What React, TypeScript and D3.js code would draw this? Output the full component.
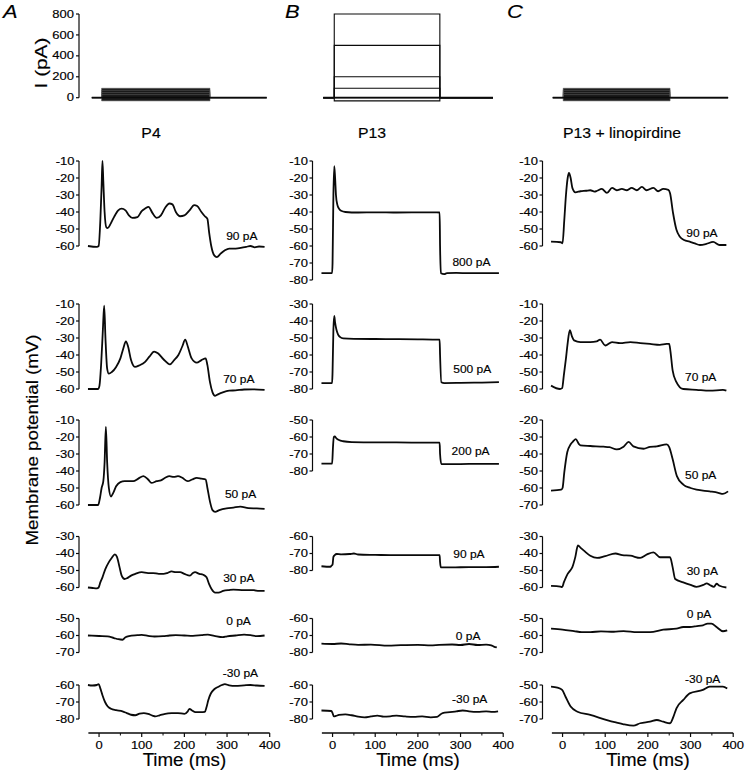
import React from 'react';
import * as d3 from 'd3';

// ---------- data ----------
const columnTitles = ['P4', 'P13', 'P13 + linopirdine'];
const panelLetters = ['A', 'B', 'C'];

const p4Currents = [90, 70, 50, 30, 0, -30];
const p13Currents = [800, 500, 200, 90, 0, -30];
const linoCurrents = [90, 70, 50, 30, 0, -30];

const p4Domains = [[-60, -10], [-60, -10], [-60, -10], [-60, -30], [-70, -50], [-80, -60]];
const p13Domains = [[-80, -10], [-80, -30], [-80, -50], [-80, -60], [-80, -60], [-80, -60]];
const linoDomains = [[-60, -10], [-60, -10], [-70, -20], [-60, -30], [-70, -50], [-70, -50]];

// label anchor in data units [time ms, mV]
const p4LabelAt = [[298, -56.5], [291, -56.6], [295, -55.9], [291, -56.6], [298, -53.8], [290, -55.1]];
const p13LabelAt = [[281, -71.8], [283, -70.8], [279, -70.6], [283, -72.8], [289, -72.6], [280, -70.8]];
const linoLabelAt = [[290, -54.9], [287, -55.1], [287, -54.9], [291, -52.6], [291, -49.9], [287, -48.6]];

// current step protocol per column: [on, off] ms, baseline [from, to] ms
const stepTimes = [[6, 260], [4, 251.5], [1.5, 252]];
const baselineSpan = [[-17, 393], [-22, 376], [-23, 388]];

const currentTicks = [0, 200, 400, 600, 800];
const timeTicks = [0, 100, 200, 300, 400];

const p4Traces: number[][][] = [
  [[-26,-60],[-5,-60.5],[-1,-60],[3,-45],[6,-25],[8,-10],[10,-22],[13,-40],[17,-49],[20,-49.5],[27,-47],[35,-43],[45,-39],[53,-38],[62,-39],[70,-42],[78,-43.5],[90,-43],[100,-39.5],[108,-38],[116,-37],[125,-40.5],[135,-43.5],[145,-42],[155,-37.5],[165,-35],[172,-35.5],[180,-40],[190,-42.5],[200,-42],[212,-39],[223,-36],[230,-36.5],[240,-40],[248,-42.5],[254,-44],[258,-52],[263,-60],[270,-65.5],[276,-66.5],[285,-64.5],[295,-62.5],[305,-61.5],[320,-61.5],[335,-61],[345,-60.5],[355,-60],[365,-60.8],[375,-60.3],[388,-60.5]],
  [[-26,-60],[-2,-60],[1,-58],[5,-45],[9,-25],[12,-11],[15,-30],[19,-48],[23,-51],[30,-50],[40,-47],[50,-42],[57,-36],[63,-32],[68,-35],[75,-43],[84,-47],[95,-46],[108,-44],[118,-41],[129,-38],[138,-39],[151,-42.5],[166,-45.5],[176,-43],[186,-40],[195,-35],[202,-31],[208,-35],[217,-42],[229,-44.5],[240,-43],[250,-42],[254,-46],[260,-56],[266,-62],[272,-64],[280,-63],[290,-62],[305,-61],[320,-60.8],[340,-60.3],[360,-60.2],[388,-60.5]],
  [[-26,-60],[-2,-60],[2,-56],[6,-50],[10,-46],[13,-35],[16,-14],[19,-35],[23,-50],[28,-55],[33,-53],[40,-49],[50,-46.5],[60,-46],[70,-46],[80,-46],[92,-44.5],[104,-43],[115,-45],[123,-47],[135,-46],[145,-45.5],[155,-44],[165,-43],[175,-43.5],[185,-43],[195,-44],[208,-46],[218,-45],[229,-44],[240,-44.5],[250,-45],[254,-50],[260,-58],[266,-63],[272,-64],[282,-63],[299,-62],[315,-61.5],[331,-61],[350,-61.8],[370,-62],[388,-62.3]],
  [[-26,-60],[-15,-60.3],[-5,-60.5],[-1,-60],[3,-57],[8,-54],[15,-49],[22,-45.5],[30,-42.5],[37,-40.5],[42,-42],[48,-48],[53,-53],[60,-55],[66,-54.5],[75,-53],[85,-52],[100,-51],[115,-51.5],[127,-51.5],[140,-52],[151,-52],[160,-51.5],[170,-50.5],[180,-51],[190,-51],[200,-52],[213,-53],[220,-51.5],[225,-51],[235,-52],[244,-52.5],[252,-54],[258,-58],[264,-61],[272,-63],[280,-63],[291,-62],[305,-61.5],[315,-61.3],[335,-61.5],[362,-61.6],[375,-62],[388,-62]],
  [[-26,-60],[0,-60.3],[20,-60.5],[35,-61.5],[45,-62.2],[55,-62.5],[62,-61],[70,-60.3],[90,-59.8],[100,-59.6],[115,-60.2],[130,-60.6],[150,-60.4],[165,-60],[180,-59.8],[200,-60],[220,-60.2],[240,-59.8],[255,-59.5],[270,-60.2],[290,-61],[300,-60.5],[320,-60],[340,-59.5],[355,-59.8],[370,-60.4],[388,-60]],
  [[-26,-60],[-15,-60.3],[-5,-60],[-1,-59.5],[3,-62],[8,-66],[14,-70],[20,-72.5],[28,-74],[40,-74.8],[55,-75.5],[65,-76.5],[75,-77.5],[85,-77.8],[95,-76.8],[105,-76.5],[115,-77],[125,-78],[132,-78.5],[142,-77.8],[155,-77],[170,-76.6],[185,-76.5],[200,-77],[208,-75.5],[212,-74],[218,-75],[226,-76],[238,-76],[248,-75.8],[252,-73],[256,-69],[262,-65],[270,-62.5],[280,-61],[288,-60],[295,-59.5],[305,-60.2],[320,-60.5],[340,-60.2],[355,-60],[370,-60.3],[388,-60.5]],
];

const p13Traces: number[][][] = [
  [[-26,-76],[-1,-76],[0,-70],[2,-30],[4,-13],[6,-20],[8,-30],[11,-35.5],[15,-38],[20,-39.3],[30,-40],[60,-40.3],[100,-40.2],[150,-40.3],[200,-40.2],[251,-40.3],[252,-60],[254,-76],[262,-76.5],[268,-76],[290,-75.8],[320,-76],[360,-76],[390,-76]],
  [[-26,-76.5],[-1,-76.5],[0,-70],[2,-45],[4,-37],[6,-41],[9,-45],[13,-48],[18,-49.5],[25,-50.2],[50,-50.5],[100,-50.6],[150,-50.7],[200,-50.8],[251,-51],[252,-60],[255,-76],[262,-76.5],[300,-76.4],[350,-76.2],[390,-76]],
  [[-26,-75.7],[-1,-75.7],[1,-66],[3,-60],[5,-59.7],[9,-60.8],[15,-61.8],[25,-62.5],[45,-63],[100,-63.2],[150,-63.2],[200,-63.3],[251,-63.3],[252,-70],[255,-76],[280,-76],[320,-75.8],[360,-75.8],[390,-75.8]],
  [[-26,-77.5],[-5,-77.8],[-2,-77],[0,-76.5],[2,-72],[5,-71],[10,-70.3],[20,-70.5],[40,-70.3],[50,-70],[60,-70.6],[100,-70.8],[150,-71],[200,-70.9],[251,-71],[252,-75],[254,-78.2],[280,-78.2],[320,-78],[360,-78],[390,-77.8]],
  [[-26,-74.8],[0,-75],[20,-74.7],[40,-75.2],[60,-75.5],[90,-75.4],[130,-76],[160,-75.7],[200,-75.5],[230,-75.8],[250,-75.5],[280,-75.3],[300,-75.6],[320,-75],[340,-75.6],[360,-75.4],[372,-75.8],[378,-76.5],[385,-77]],
  [[-26,-75],[-3,-75.3],[0,-76.5],[3,-78.5],[8,-78.2],[15,-77.6],[30,-77.3],[45,-77.8],[60,-78.6],[75,-79],[90,-78.5],[105,-78],[120,-78.6],[135,-78.4],[150,-78],[170,-78.5],[190,-78.8],[210,-78.5],[230,-79],[245,-78.8],[252,-77.5],[258,-76.5],[275,-76],[290,-75.5],[305,-75],[320,-75.5],[340,-75.8],[360,-75.5],[375,-75.8],[388,-75.5]],
];

const linoTraces: number[][][] = [
  [[-27,-57.4],[-4,-57.8],[0,-58.4],[4,-45],[8,-30],[12,-20],[15,-17],[19,-20],[23,-25.8],[30,-28.4],[42,-27.8],[55,-27.5],[65,-27.2],[75,-28],[81,-27.5],[92,-26.4],[104,-28.8],[116,-25.8],[127,-27.2],[139,-26.4],[151,-27.2],[162,-25.8],[174,-27.2],[186,-25.2],[197,-27.2],[213,-25.8],[224,-27.8],[236,-26.4],[248,-27],[252,-29],[259,-40.6],[267,-50.5],[275,-54.5],[285,-56.5],[298,-57.4],[310,-58.5],[322,-59.4],[337,-58.8],[353,-57.6],[368,-59.4],[384,-59.4]],
  [[-27,-58],[-6,-60],[-1,-59.5],[3,-52],[8,-42],[12,-33],[17,-25.4],[22,-29],[27,-31.4],[42,-32.4],[65,-32.4],[80,-32],[88,-31],[100,-34.4],[116,-32.4],[135,-33],[159,-32.4],[182,-33],[205,-33.5],[228,-34],[244,-33.5],[250,-33.5],[253,-38],[258,-49],[267,-56],[275,-59],[283,-60],[314,-60.5],[345,-61],[376,-60.5],[384,-61]],
  [[-27,-61.5],[-3,-61],[0,-60],[4,-51],[11,-39],[19,-34.3],[25,-32.5],[31,-31.3],[38,-34],[42,-34.9],[65,-35.3],[96,-35.7],[110,-36],[127,-37.3],[143,-35.7],[155,-32.9],[166,-35.5],[190,-36.9],[205,-35.8],[221,-35.5],[244,-34.3],[250,-36],[258,-43],[268,-53],[283,-58],[300,-60],[314,-61],[345,-62],[365,-62.8],[376,-63.5],[388,-62]],
  [[-27,-59],[-5,-59.5],[-1,-59.8],[3,-57],[8,-54],[12,-52],[18,-50],[23,-48],[30,-42],[36,-35.3],[43,-36.8],[50,-38.3],[65,-41.3],[81,-42.6],[100,-41.5],[124,-40],[140,-41],[159,-41.3],[182,-42.6],[198,-40.5],[213,-39.3],[229,-42.2],[252,-42.2],[258,-48],[264,-55],[283,-57],[300,-58.5],[314,-59.6],[330,-58.5],[338,-57.6],[345,-58.5],[355,-59.6],[361,-57.8],[368,-59],[384,-60]],
  [[-27,-56],[0,-56.5],[27,-57.4],[45,-58],[65,-58],[90,-57.6],[120,-57.8],[143,-57.4],[175,-58],[205,-58],[236,-56.6],[267,-56],[283,-55],[298,-55],[315,-54.5],[329,-54],[340,-53],[349,-53],[361,-55],[376,-57.5],[386,-57]],
  [[-27,-51],[-12,-51.6],[-1,-52.9],[7,-56.9],[19,-62.7],[35,-65.7],[65,-67.6],[104,-70.6],[125,-72],[143,-73.1],[166,-73.9],[182,-72.5],[205,-71.6],[221,-70.6],[236,-71.6],[252,-72.5],[260,-68.6],[267,-63.7],[283,-58.8],[298,-54.9],[329,-52.9],[345,-51],[376,-51],[386,-52]],
];

// ---------- layout ----------
const W = 750, H = 777;
const axisX = [79, 312.5, 542.5];
const xSpan = 190.7;
const rowTops = [161, 304, 420, 536.5, 618.5, 685];
const pxPerMv = 1.7;
const currentY = [97.7, 14];
const timeAxisY = 733;
const FONT = 'Liberation Sans, Arial, Helvetica, sans-serif';

const columns = [
  { currents: p4Currents, domains: p4Domains, traces: p4Traces, labels: p4LabelAt },
  { currents: p13Currents, domains: p13Domains, traces: p13Traces, labels: p13LabelAt },
  { currents: linoCurrents, domains: linoDomains, traces: linoTraces, labels: linoLabelAt },
];

function T({ x, y, size, anchor = 'start', sx = 1.25, rot = 0, italic = false, children }: any) {
  return (
    <text
      transform={`translate(${x},${y}) rotate(${rot}) scale(${sx},1)`}
      fontSize={size}
      textAnchor={anchor}
      fontFamily={FONT}
      fontStyle={italic ? 'italic' : 'normal'}
      fill="#000"
      stroke="#000"
      strokeWidth={0.15}
    >
      {children}
    </text>
  );
}

export default function App() {
  const yI = d3.scaleLinear().domain([0, 800]).range(currentY);
  const lineCol = '#0a0a0a';

  return (
    <svg width={W} height={H} style={{ position: 'absolute', left: 0, top: 0, background: '#fff' }}>
      <rect width={W} height={H} fill="#fff" />
      {columns.map((col, ci) => {
        const ax = axisX[ci];
        const x = d3.scaleLinear().domain([-47, 400]).range([ax, ax + xSpan]);
        const [on, off] = stepTimes[ci];
        const [b0, b1] = baselineSpan[ci];
        const stepLine = d3.line<number[]>().x(d => x(d[0])).y(d => yI(d[1]));
        const maxI = d3.max(col.currents) as number;
        const minI = d3.min(col.currents) as number;
        return (
          <g key={ci}>
            <T x={[3, 285, 507][ci]} y={18} size={19} sx={1.15} italic>{panelLetters[ci]}</T>
            {ci !== 1 && (
              <rect x={x(on)} y={yI(maxI)} width={x(off) - x(on)} height={yI(minI) - yI(maxI)} fill="#1a1a1a" />
            )}
            {col.currents.map((c, k) => (
              <path key={k} fill="none" stroke={ci === 1 ? lineCol : '#555'} strokeWidth={ci === 1 ? 1.1 : 0.6}
                d={stepLine([[b0, 0], [on, 0], [on, c], [off, c], [off, 0], [b1, 0]]) as string} />
            ))}
            <path d={`M${x(b0)},${yI(0)}H${x(b1)}`} stroke={lineCol} strokeWidth={1.8} />
            {ci === 0 && (
              <g>
                <path d={`M${ax},${yI(0)}V${yI(800)}`} stroke={lineCol} strokeWidth={1.2} />
                {currentTicks.map(t => (
                  <g key={t}>
                    <path d={`M${ax - 3},${yI(t)}H${ax}`} stroke={lineCol} strokeWidth={1.2} />
                    <T x={ax - 5} y={yI(t) + 3.6} size={10} sx={1.3} anchor="end">{t}</T>
                  </g>
                ))}
                <T x={47} y={63} size={16} sx={1.3} rot={-90} anchor="middle">I (pA)</T>
              </g>
            )}
            <T x={[151, 372, 622][ci]} y={138} size={14} sx={1.13} anchor="middle">{columnTitles[ci]}</T>
            {col.traces.map((tr, ri) => {
              const [lo, hi] = col.domains[ri];
              const top = rowTops[ri];
              const y = d3.scaleLinear().domain([hi, lo]).range([top, top + (hi - lo) * pxPerMv]);
              const line = d3.line<number[]>().x(d => x(d[0])).y(d => y(d[1])).curve(d3.curveMonotoneX);
              const ticks = d3.range(lo, hi + 1, 10);
              const [lt, lv] = col.labels[ri];
              return (
                <g key={ri}>
                  <path d={`M${ax},${y(hi)}V${y(lo)}`} stroke={lineCol} strokeWidth={1.2} />
                  {ticks.map(t => (
                    <g key={t}>
                      <path d={`M${ax - 3},${y(t)}H${ax}`} stroke={lineCol} strokeWidth={1.2} />
                      <T x={ax - 4.5} y={y(t) + 3.6} size={10} sx={1.3} anchor="end">{t}</T>
                    </g>
                  ))}
                  <path d={line(tr) as string} fill="none" stroke={lineCol} strokeWidth={1.8} strokeLinejoin="round" />
                  <T x={x(lt)} y={y(lv)} size={10} sx={1.2}>{`${col.currents[ri]} pA`}</T>
                </g>
              );
            })}
            <path d={`M${x(-25)},${timeAxisY}H${x(400)}`} stroke={lineCol} strokeWidth={1.4} />
            {timeTicks.map(t => (
              <g key={t}>
                <path d={`M${x(t)},${timeAxisY}v4`} stroke={lineCol} strokeWidth={1.2} />
                <T x={x(t)} y={timeAxisY + 16} size={10} sx={1.3} anchor="middle">{t}</T>
              </g>
            ))}
            {timeTicks.slice(0, -1).map(t => (
              <path key={'m' + t} d={`M${x(t + 50)},${timeAxisY}v2.5`} stroke={lineCol} strokeWidth={1} />
            ))}
            <T x={x(200)} y={766} size={18} sx={1.04} anchor="middle">Time (ms)</T>
          </g>
        );
      })}
      <T x={38} y={440} size={16} sx={1.17} rot={-90} anchor="middle">Membrane potential (mV)</T>
    </svg>
  );
}
